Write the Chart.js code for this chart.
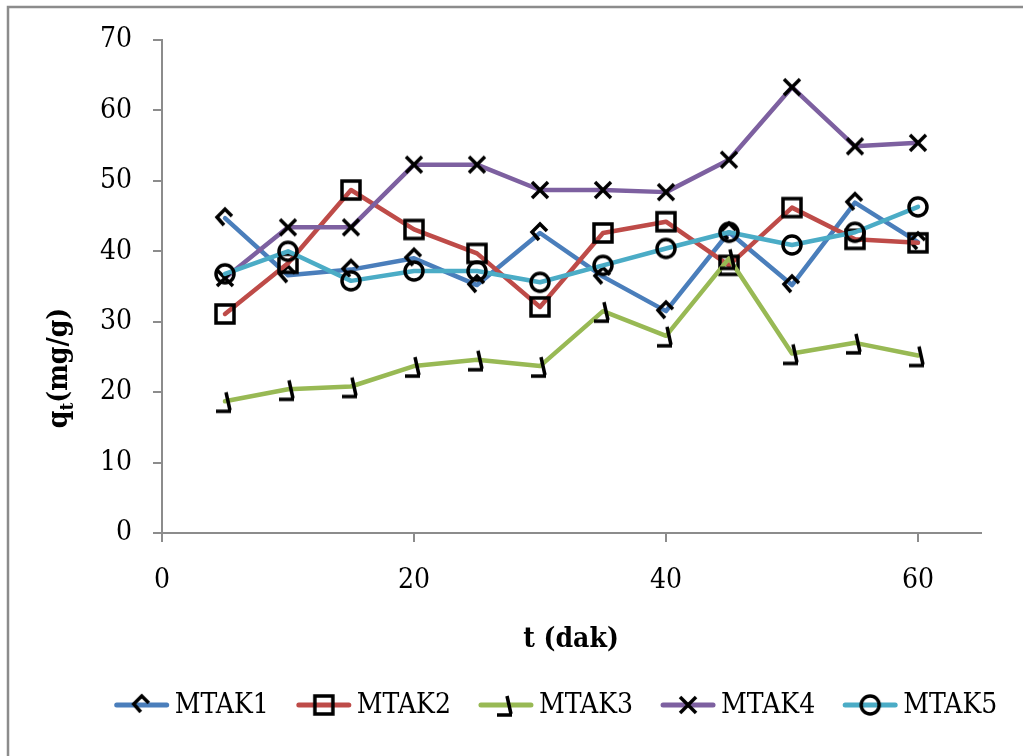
<!DOCTYPE html>
<html lang="tr">
<head>
<meta charset="UTF-8" />
<title>qt - t (dak)</title>
<script src="https://cdn.jsdelivr.net/npm/chart.js"></script>
<style>
  html, body { margin: 0; padding: 0; background: #fff; }
  canvas { display: block; }
</style>
</head>
<body>
<canvas id="qtChart" width="1023" height="756"></canvas>
<script>
// zaman (dak)
const times = [5, 10, 15, 20, 25, 30, 35, 40, 45, 50, 55, 60];

const mtak1 = [44.7, 36.6, 37.4, 39.0, 35.2, 42.6, 36.4, 31.5, 42.7, 35.2, 46.9, 41.3];
const mtak2 = [31.1, 38.3, 48.7, 43.1, 39.7, 32.1, 42.6, 44.2, 38.0, 46.2, 41.7, 41.2];
const mtak3 = [18.7, 20.4, 20.8, 23.7, 24.6, 23.7, 31.5, 28.0, 39.0, 25.5, 27.0, 25.2];
const mtak4 = [36.2, 43.4, 43.4, 52.3, 52.3, 48.7, 48.7, 48.4, 53.0, 63.3, 54.9, 55.4];
const mtak5 = [36.8, 40.0, 35.8, 37.2, 37.2, 35.6, 38.0, 40.4, 42.7, 40.9, 42.7, 46.3];

const seriesNames = ['MTAK1', 'MTAK2', 'MTAK3', 'MTAK4', 'MTAK5'];
const seriesValues = [mtak1, mtak2, mtak3, mtak4, mtak5];
const seriesColors = ['#4A7EBB', '#BE4B48', '#98B954', '#7D60A0', '#4BACC6'];
const markerKinds = ['diamond', 'square', 'hook', 'cross', 'circle'];

const xTicks = [0, 20, 40, 60];

const FONT = "'DejaVu Serif Condensed', 'Liberation Serif', serif";

// black outline markers drawn on small canvases
function makeMarker(kind) {
  const c = document.createElement('canvas');
  c.width = 30; c.height = 30;
  const g = c.getContext('2d');
  const cx = 15, cy = 15;
  g.strokeStyle = '#000';
  g.lineWidth = 3.5;
  g.lineJoin = 'miter';
  g.beginPath();
  if (kind === 'diamond') {
    g.moveTo(cx + 7, cy - 2);
    g.lineTo(cx, cy - 9);
    g.lineTo(cx - 8, cy - 1);
    g.lineTo(cx - 1, cy + 7);
  } else if (kind === 'square') {
    g.rect(cx - 9, cy - 9, 18, 18);
  } else if (kind === 'hook') {
    g.moveTo(cx + 1, cy - 9);
    g.lineTo(cx + 5, cy + 9);
    g.moveTo(cx + 6, cy + 10);
    g.lineTo(cx - 9, cy + 10);
  } else if (kind === 'cross') {
    g.moveTo(cx - 8, cy - 8); g.lineTo(cx + 8, cy + 8);
    g.moveTo(cx + 8, cy - 8); g.lineTo(cx - 8, cy + 8);
  } else {
    g.arc(cx, cy, 9, 0, Math.PI * 2);
  }
  g.stroke();
  return c;
}
const markers = markerKinds.map(makeMarker);

const datasets = seriesNames.map((name, i) => ({
  label: name,
  data: times.map((t, k) => ({ x: t, y: seriesValues[i][k] })),
  borderColor: seriesColors[i],
  backgroundColor: seriesColors[i],
  borderWidth: 4.5,
  borderCapStyle: 'round',
  borderJoinStyle: 'round',
  pointStyle: markers[i],
  pointRadius: 10,
  pointHoverRadius: 10,
  tension: 0,
  order: 5 - i
}));

// axis titles, frame and legend
const decorations = {
  id: 'decorations',
  afterDraw(chart) {
    const ctx = chart.ctx;
    ctx.save();

    // outer frame (top and left edges)
    ctx.strokeStyle = '#8c8c8c';
    ctx.lineWidth = 2.5;
    ctx.beginPath();
    ctx.moveTo(8, 800);
    ctx.lineTo(8, 7);
    ctx.lineTo(1100, 7);
    ctx.stroke();

    ctx.fillStyle = '#000';

    // x title
    ctx.font = 'bold 28px ' + FONT;
    ctx.textAlign = 'center';
    ctx.textBaseline = 'middle';
    ctx.fillText('t (dak)', 571, 640);

    // y title q_t(mg/g), rotated
    ctx.translate(57, 368);
    ctx.rotate(-Math.PI / 2);
    ctx.textAlign = 'left';
    ctx.textBaseline = 'alphabetic';
    const big = 'bold 28px ' + FONT, small = 'bold 19px ' + FONT;
    ctx.font = big;
    const wq = ctx.measureText('q').width;
    ctx.font = small;
    const wt = ctx.measureText('t').width;
    ctx.font = big;
    const wr = ctx.measureText('(mg/g)').width;
    let x0 = -(wq + wt + wr) / 2;
    const base = 10;
    ctx.fillText('q', x0, base);
    ctx.font = small;
    ctx.fillText('t', x0 + wq, base + 6);
    ctx.font = big;
    ctx.fillText('(mg/g)', x0 + wq + wt, base);
    ctx.setTransform(1, 0, 0, 1, 0, 0);

    // legend
    ctx.font = '28px ' + FONT;
    ctx.textAlign = 'left';
    ctx.textBaseline = 'middle';
    const lineLen = 54, gapText = 6, gapItem = 28;
    const widths = seriesNames.map(n => lineLen + gapText + ctx.measureText(n).width);
    const total = widths.reduce((a, b) => a + b, 0) + gapItem * (widths.length - 1);
    let lx = 556 - total / 2;
    const ly = 705;
    seriesNames.forEach((name, i) => {
      ctx.strokeStyle = seriesColors[i];
      ctx.lineWidth = 5;
      ctx.lineCap = 'round';
      ctx.beginPath();
      ctx.moveTo(lx + 2, ly);
      ctx.lineTo(lx + lineLen - 2, ly);
      ctx.stroke();
      const m = markers[i];
      ctx.drawImage(m, lx + lineLen / 2 - m.width / 2, ly - m.height / 2);
      ctx.fillStyle = '#000';
      ctx.fillText(name, lx + lineLen + gapText, ly + 1);
      lx += widths[i] + gapItem;
    });

    ctx.restore();
  }
};

new Chart(document.getElementById('qtChart').getContext('2d'), {
  type: 'line',
  data: { datasets },
  options: {
    responsive: false,
    animation: false,
    events: [],
    layout: { padding: { left: 0, top: 40, right: 42, bottom: 0 } },
    plugins: {
      legend: { display: false },
      tooltip: { enabled: false },
      title: { display: false }
    },
    scales: {
      x: {
        type: 'linear',
        min: 0,
        max: 65,
        afterBuildTicks: scale => { scale.ticks = xTicks.map(v => ({ value: v })); },
        afterFit: scale => { scale.height = 756 - 533; },
        border: { display: true, color: '#8c8c8c', width: 2 },
        grid: { display: true, drawOnChartArea: false, drawTicks: true, tickLength: 9, color: '#8c8c8c', lineWidth: 2 },
        ticks: { color: '#000', font: { family: FONT, size: 28 }, padding: 22, maxRotation: 0 }
      },
      y: {
        min: 0,
        max: 70,
        afterFit: scale => { scale.width = 162; },
        border: { display: true, color: '#8c8c8c', width: 2 },
        grid: { display: true, drawOnChartArea: false, drawTicks: true, tickLength: 9, color: '#8c8c8c', lineWidth: 2 },
        ticks: { stepSize: 10, color: '#000', font: { family: FONT, size: 28 }, padding: 21 }
      }
    }
  },
  plugins: [decorations]
});
</script>
</body>
</html>
